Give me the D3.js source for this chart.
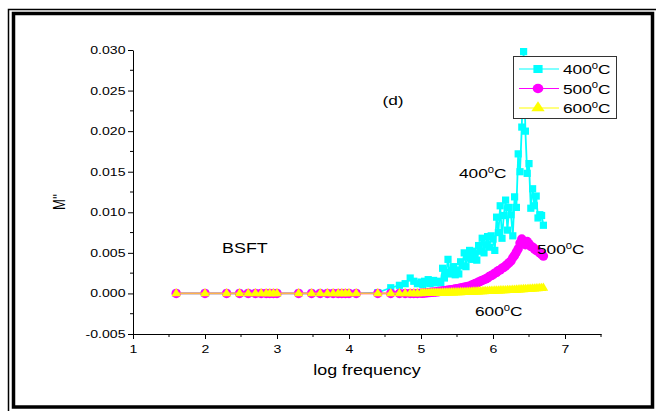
<!DOCTYPE html>
<html>
<head>
<meta charset="utf-8">
<script src="https://cdn.jsdelivr.net/npm/d3@7"></script>
<style>
  body { margin: 0; background: #fff; }
  svg { display: block; font-family: "Liberation Sans", Arial, sans-serif; }
</style>
</head>
<body>
<svg id="chart" width="656" height="411"></svg>
<script>
// log frequency sweep, shared by all three temperatures
const logFreq = [
  1.6, 2.0, 2.3, 2.48, 2.6, 2.7, 2.78, 2.85, 2.9, 2.95, 3.0,
  3.3, 3.48, 3.6, 3.7, 3.78, 3.85, 3.9, 3.95, 4.0, 4.1,
  4.4, 4.58, 4.7, 4.78, 4.85, 4.9, 4.95, 5.0,
  5.025, 5.05, 5.075, 5.1, 5.125, 5.15, 5.175, 5.2, 5.225, 5.25,
  5.275, 5.3, 5.325, 5.35, 5.375, 5.4, 5.425, 5.45, 5.475, 5.5,
  5.525, 5.55, 5.575, 5.6, 5.625, 5.65, 5.675, 5.7, 5.725, 5.75,
  5.775, 5.8, 5.825, 5.85, 5.875, 5.9, 5.925, 5.95, 5.975, 6.0,
  6.025, 6.05, 6.075, 6.1, 6.125, 6.15, 6.175, 6.2, 6.225, 6.25,
  6.275, 6.3, 6.325, 6.35, 6.375, 6.4, 6.425, 6.45, 6.475, 6.5,
  6.525, 6.55, 6.575, 6.6, 6.625, 6.65, 6.675, 6.7
]

const m400 = [
  0, 0, 0, 0, 0, 0, 0, 0, 0, 0, 0,
  0, 0, 0, 0, 0, 0, 0, 0, 0, 0,
  0.0001, 0.0007, 0.0010, 0.0012, 0.0019, 0.0015, 0.0012, 0.0014,
  0.0011, 0.0015, 0.0013, 0.0017, 0.0012, 0.0014, 0.0016, 0.0013, 0.0015, 0.0014,
  0.0013, 0.0031, 0.0019, 0.0026, 0.0042, 0.0024, 0.0028, 0.0033, 0.0023, 0.0029,
  0.0024, 0.0039, 0.0034, 0.0050, 0.0033, 0.0045, 0.0053, 0.0042, 0.0052, 0.0049,
  0.0041, 0.0059, 0.0052, 0.0068, 0.0050, 0.0060, 0.0070, 0.0057, 0.0071, 0.0067,
  0.0053, 0.0094, 0.0075, 0.0108, 0.0068, 0.0096, 0.0115, 0.0078, 0.0106, 0.0097,
  0.0071, 0.0119, 0.0106, 0.0172, 0.0150, 0.0205, 0.0298, 0.0200, 0.0148, 0.0160,
  0.0105, 0.0129, 0.0108, 0.0120, 0.0093, 0.0097, 0.0096, 0.0084
]

const m500 = [
  0, 0, 0, 0, 0, 0, 0, 0, 0, 0, 0,
  0, 0, 0, 0, 0, 0, 0, 0, 0, 0,
  0, 0, 0, 0, 0, 0, 0, 0.00002,
  0.00003, 0.00005, 0.00007, 0.0001, 0.00012, 0.00014, 0.00016, 0.00018, 0.0002, 0.00023,
  0.00026, 0.0003, 0.00033, 0.00036, 0.0004, 0.00044, 0.00047, 0.0005, 0.00054, 0.00058,
  0.00062, 0.00066, 0.0007, 0.00075, 0.0008, 0.00085, 0.0009, 0.001, 0.0011, 0.0012,
  0.0013, 0.0014, 0.0015, 0.0016, 0.0017, 0.0018, 0.0019, 0.0021, 0.0022, 0.0023,
  0.0025, 0.0026, 0.0028, 0.0029, 0.0031, 0.0032, 0.0034, 0.0036, 0.0038, 0.0040,
  0.0044, 0.0047, 0.0051, 0.0055, 0.0062, 0.0067, 0.0063, 0.0060, 0.0064, 0.0061,
  0.0058, 0.0057, 0.0055, 0.0053, 0.0052, 0.0050, 0.0048, 0.0046
]

const m600 = [
  0, 0, 0, 0, 0, 0, 0, 0, 0, 0, 0,
  0, 0, 0, 0, 0, 0, 0, 0, 0, 0,
  0, 0, 0, 0, 0, 0, 0, 0,
  0.00001, 0.00002, 0.00002, 0.00003, 0.00003, 0.00004, 0.00004, 0.00005, 0.00005, 0.00006,
  0.00006, 0.00007, 0.00007, 0.00008, 0.00008, 0.00009, 0.0001, 0.0001, 0.00011, 0.00012,
  0.00012, 0.00013, 0.00014, 0.00015, 0.00015, 0.00016, 0.00017, 0.00018, 0.00019, 0.0002,
  0.00021, 0.00022, 0.00023, 0.00024, 0.00025, 0.00026, 0.00027, 0.00028, 0.00029, 0.0003,
  0.00031, 0.00032, 0.00033, 0.00034, 0.00035, 0.00036, 0.00037, 0.00038, 0.00039, 0.0004,
  0.00041, 0.00043, 0.00044, 0.00045, 0.00047, 0.00048, 0.0005, 0.00051, 0.00052, 0.00054,
  0.00055, 0.00057, 0.00058, 0.0006, 0.00061, 0.00063, 0.00064, 0.00066
]

const seriesNames = ["400", "500", "600"]
const xTicks = [1, 2, 3, 4, 5, 6, 7]
const yTicks = [-0.005, 0, 0.005, 0.010, 0.015, 0.020, 0.025, 0.030]

// the original figure is stretched sideways, text included
const SX = 1.28

const svg = d3.select("#chart")

// double frame around the figure
svg.append("rect")
  .attr("x", 8.5).attr("y", 9.5).attr("width", 660).attr("height", 420)
  .attr("fill", "none").attr("stroke", "#000").attr("stroke-width", 1.5)
svg.append("rect")
  .attr("x", 13.5).attr("y", 13.5).attr("width", 639).attr("height", 393.5)
  .attr("fill", "none").attr("stroke", "#000").attr("stroke-width", 3.5)

const x = d3.scaleLinear().domain([1, 7.5]).range([133, 601])
const y = d3.scaleLinear().domain([-0.005, 0.030]).range([334, 50])

function sText(parent, tx, ty, size, anchor) {
  return parent.append("text")
    .attr("transform", `translate(${tx},${ty}) scale(${SX},1)`)
    .attr("font-size", size)
    .attr("text-anchor", anchor || "start")
    .attr("fill", "#000")
}

// axes
const xAxis = svg.append("g").attr("transform", "translate(0,334)")
xAxis.call(d3.axisBottom(x).tickValues(xTicks).tickFormat(d3.format("d")).tickSize(5).tickSizeOuter(0))
xAxis.append("g").selectAll("line")
  .data(d3.range(1.5, 7.6, 1))
  .join("line")
  .attr("x1", d => x(d)).attr("x2", d => x(d))
  .attr("y1", 0).attr("y2", 3)
  .attr("stroke", "#000")

const yAxis = svg.append("g").attr("transform", "translate(133,0)")
yAxis.call(d3.axisLeft(y).tickValues(yTicks)
  .tickFormat(d => d3.format(".3f")(d).replace("−", "-"))
  .tickSize(5).tickSizeOuter(0))
yAxis.append("g").selectAll("line")
  .data(d3.range(-0.0025, 0.03, 0.005))
  .join("line")
  .attr("x1", 0).attr("x2", -3)
  .attr("y1", d => y(d)).attr("y2", d => y(d))
  .attr("stroke", "#000")

svg.selectAll(".tick text")
  .attr("font-family", "Liberation Sans, Arial, sans-serif")
  .attr("font-size", 11)
  .attr("fill", "#000")
yAxis.selectAll(".tick text").attr("x", null)
  .attr("transform", `translate(-7.5,0) scale(${SX},1)`)
xAxis.selectAll(".tick text").attr("y", null)
  .attr("transform", `translate(0,11.5) scale(${SX},1)`)
svg.selectAll(".domain").attr("stroke", "#000")

// axis titles
sText(svg, 367, 375, 14, "middle").text("log frequency")
svg.append("text")
  .attr("transform", `translate(65,202) scale(${SX},1) rotate(-90)`)
  .attr("text-anchor", "middle")
  .attr("font-size", 13)
  .text("M''")

// series
const series = [
  { name: seriesNames[0], values: m400, color: "#00ffff", shape: d3.symbolSquare, size: 52, legSize: 64, lineOpacity: 1 },
  { name: seriesNames[1], values: m500, color: "#ff00ff", shape: d3.symbolCircle, size: 70, legSize: 68, lineOpacity: 1 },
  { name: seriesNames[2], values: m600, color: "#ffff00", shape: d3.symbolTriangle, size: 40, legSize: 58, lineOpacity: 0.7 }
]

const line = d3.line()
  .x(d => x(d[0]))
  .y(d => y(d[1]))

series.forEach(s => {
  const pts = logFreq.map((f, i) => [f, s.values[i]])
  const g = svg.append("g")
  g.append("path")
    .datum(pts)
    .attr("d", line)
    .attr("fill", "none")
    .attr("stroke", s.color)
    .attr("stroke-opacity", s.lineOpacity)
    .attr("stroke-width", 1.8)
  g.selectAll("path.mk")
    .data(pts)
    .join("path")
    .attr("class", "mk")
    .attr("d", d3.symbol().type(s.shape).size(s.size))
    .attr("transform", d => `translate(${x(d[0])},${y(d[1])})`)
    .attr("fill", s.color)
})

// superscript-zero labels, like "400⁰C"
function degLabel(sel, t, size) {
  sel.append("tspan").text(t)
  sel.append("tspan").attr("dy", -size * 0.4).attr("font-size", size * 0.65).text("0")
  sel.append("tspan").attr("dy", size * 0.4).text("C")
}

// legend
const legend = svg.append("g")
legend.append("rect")
  .attr("x", 513.5).attr("y", 56.5).attr("width", 103).attr("height", 62)
  .attr("fill", "#fff").attr("stroke", "#333").attr("stroke-width", 1)
series.forEach((s, i) => {
  const ly = 69 + i * 19.5
  legend.append("line")
    .attr("x1", 519).attr("x2", 559).attr("y1", ly).attr("y2", ly)
    .attr("stroke", s.color).attr("stroke-width", 1.2)
  legend.append("path")
    .attr("d", d3.symbol().type(s.shape).size(s.legSize))
    .attr("transform", `translate(538,${ly}) scale(1.15,1)`)
    .attr("fill", s.color)
  degLabel(sText(legend, 563, ly + 5, 13.5), s.name, 13.5)
})

// annotations
sText(svg, 393, 105, 13.5, "middle").text("(d)")
sText(svg, 222, 253, 14, "start").text("BSFT")
degLabel(sText(svg, 459, 178, 13.5), seriesNames[0], 13.5)
degLabel(sText(svg, 537, 254, 13.5), seriesNames[1], 13.5)
degLabel(sText(svg, 475, 316, 13.5), seriesNames[2], 13.5)
</script>
</body>
</html>
